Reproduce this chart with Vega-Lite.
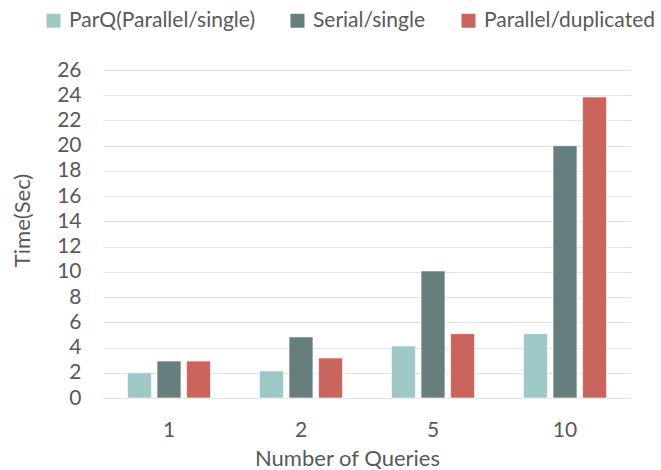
{
  "$schema": "https://vega.github.io/schema/vega-lite/v6.json",
  "width": 528,
  "height": 328,
  "autosize": "none",
  "padding": {"left": 103, "top": 70, "right": 30, "bottom": 72},
  "background": "white",
  "data": {
    "values": [
      {"queries": "1", "series": "ParQ(Parallel/single)", "time": 2.0},
      {"queries": "1", "series": "Serial/single", "time": 2.93},
      {"queries": "1", "series": "Parallel/duplicated", "time": 2.93},
      {"queries": "2", "series": "ParQ(Parallel/single)", "time": 2.14},
      {"queries": "2", "series": "Serial/single", "time": 4.84},
      {"queries": "2", "series": "Parallel/duplicated", "time": 3.17},
      {"queries": "5", "series": "ParQ(Parallel/single)", "time": 4.12},
      {"queries": "5", "series": "Serial/single", "time": 10.07},
      {"queries": "5", "series": "Parallel/duplicated", "time": 5.1},
      {"queries": "10", "series": "ParQ(Parallel/single)", "time": 5.1},
      {"queries": "10", "series": "Serial/single", "time": 20.0},
      {"queries": "10", "series": "Parallel/duplicated", "time": 23.86}
    ]
  },
  "mark": {"type": "bar", "stroke": "#ffffff", "strokeWidth": 0.6},
  "encoding": {
    "x": {
      "field": "queries",
      "type": "nominal",
      "sort": ["1", "2", "5", "10"],
      "scale": {"paddingInner": 0.371, "paddingOuter": 0.1855},
      "axis": {
        "title": "Number of Queries",
        "labelAngle": 0,
        "labelFontSize": 21,
        "labelPadding": 21,
        "ticks": false,
        "domain": true,
        "domainColor": "#e3e3e3",
        "titleFontSize": 22,
        "titlePadding": 8,
        "titleX": 244
      }
    },
    "xOffset": {
      "field": "series",
      "sort": ["ParQ(Parallel/single)", "Serial/single", "Parallel/duplicated"],
      "scale": {"paddingInner": 0.19, "paddingOuter": 0}
    },
    "y": {
      "field": "time",
      "type": "quantitative",
      "scale": {"domain": [0, 26], "nice": false},
      "axis": {
        "title": "Time(Sec)",
        "values": [0, 2, 4, 6, 8, 10, 12, 14, 16, 18, 20, 22, 24, 26],
        "labelFontSize": 21,
        "labelPadding": 22,
        "ticks": false,
        "domain": false,
        "grid": true,
        "gridColor": "#e3e3e3",
        "titleFontSize": 22,
        "titlePadding": 22,
        "titleY": 150
      }
    },
    "color": {
      "field": "series",
      "type": "nominal",
      "sort": ["ParQ(Parallel/single)", "Serial/single", "Parallel/duplicated"],
      "scale": {
        "domain": ["ParQ(Parallel/single)", "Serial/single", "Parallel/duplicated"],
        "range": ["#9ec8c6", "#667f7e", "#c9655d"]
      },
      "legend": {
        "orient": "none",
        "legendX": -60,
        "legendY": -60,
        "direction": "horizontal",
        "title": null,
        "symbolType": "square",
        "symbolSize": 196,
        "symbolStrokeWidth": 0,
        "labelFontSize": 21,
        "labelOffset": 5,
        "labelLimit": 400,
        "columnPadding": 32
      }
    }
  },
  "config": {
    "font": "Lato",
    "view": {"stroke": null},
    "axis": {"labelColor": "#595959", "titleColor": "#595959", "titleFontWeight": "normal", "labelFont": "Lato", "titleFont": "Lato"},
    "legend": {"labelColor": "#595959", "labelFont": "Lato"}
  }
}
